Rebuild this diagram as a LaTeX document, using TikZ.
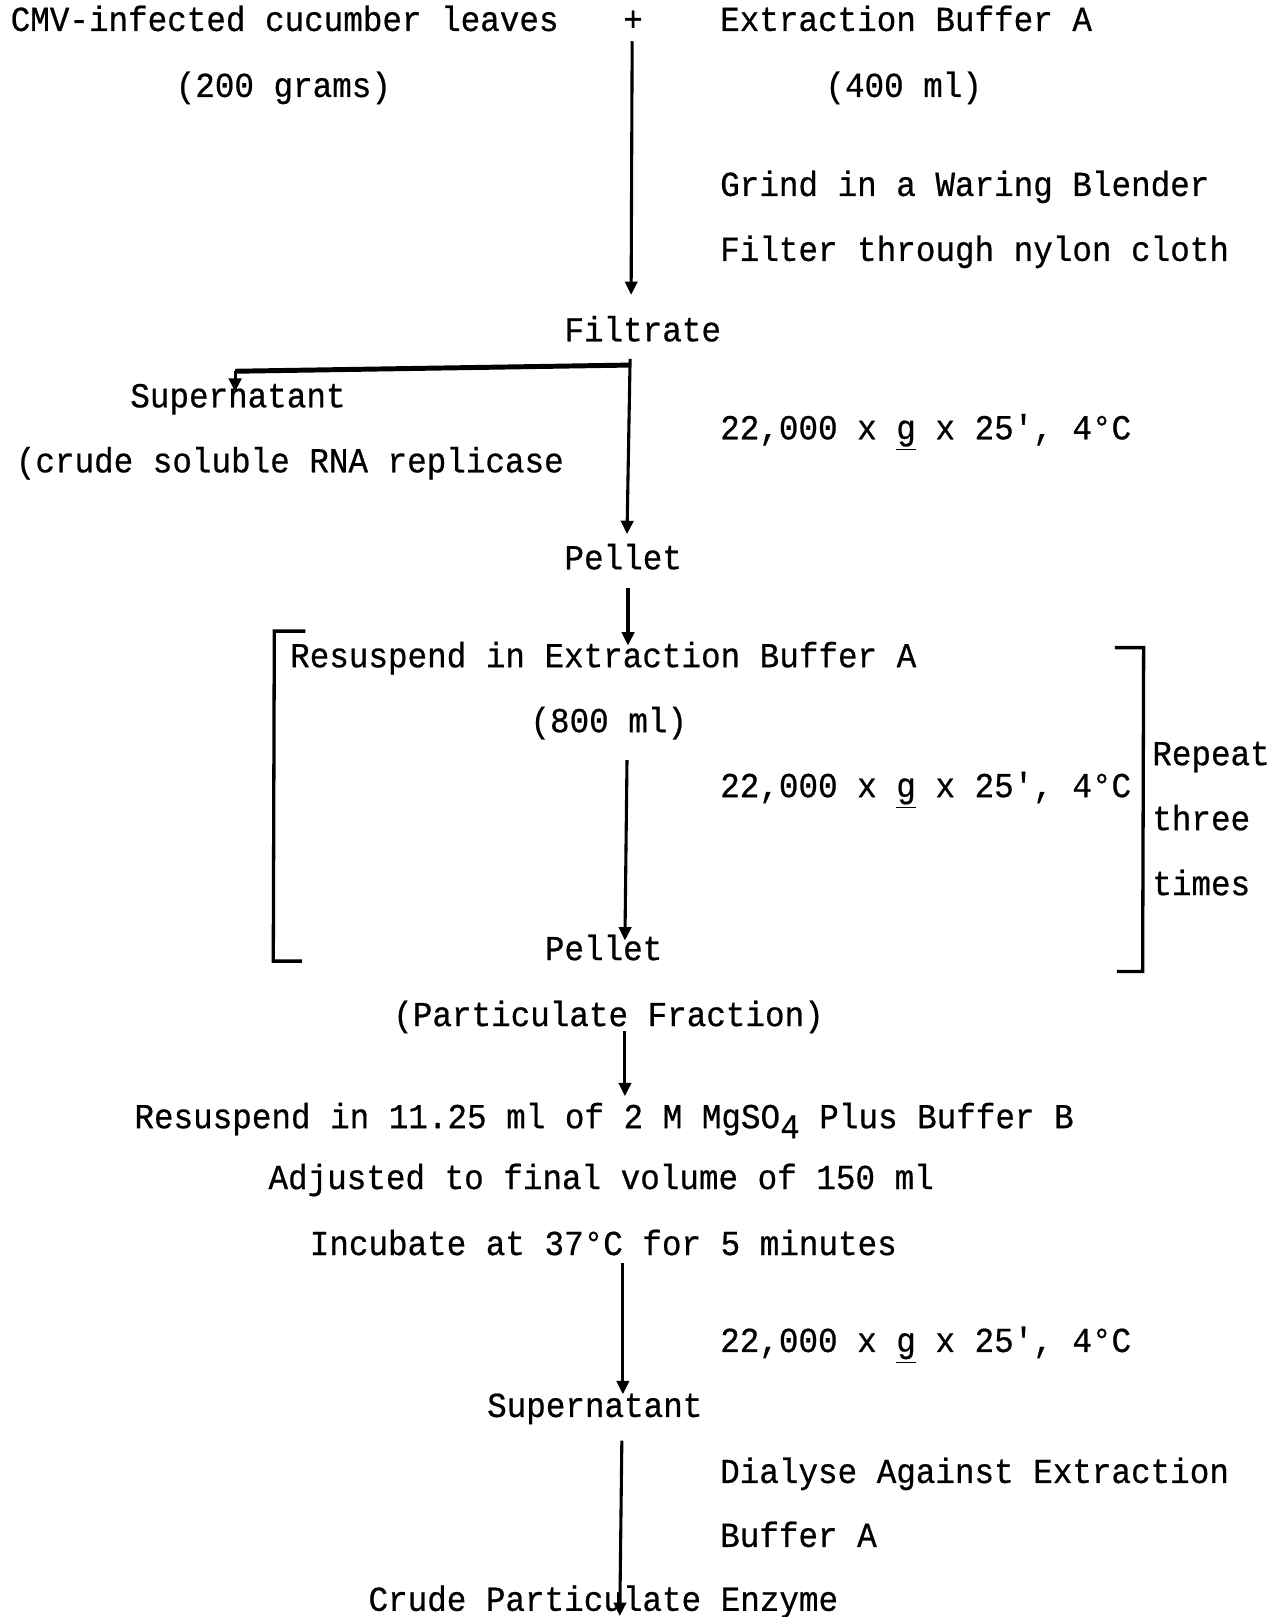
\documentclass[tikz,border=0pt]{standalone}
\usepackage{fontspec}
\setmainfont{Liberation Mono}[FakeStretch=0.93,FakeBold=0.6,Ligatures=TeXOff]
\usetikzlibrary{arrows.meta}
\begin{document}
\begin{tikzpicture}[x=0.5pt,y=-0.5pt,
  txt/.style={inner sep=0pt, anchor=base west, font=\fontsize{17}{20}\selectfont},
  flow/.style={line width=1.5pt, -{Triangle[length=6.5pt,width=6pt]}},
  brk/.style={line width=1.6pt},
  branch/.style={line width=2.4pt}]
\useasboundingbox[fill=white] (0,0) rectangle (1239,1568);
% texts
\node[txt] (cmv) at (10,30) {CMV-infected cucumber leaves};
\node[txt] (plus) at (604,30) {+};
\node[txt] (bufA) at (698,30) {Extraction Buffer A};
\node[txt] (g200) at (170,94) {(200 grams)};
\node[txt] (ml400) at (800,94) {(400 ml)};
\node[txt] (grind) at (698,190) {Grind in a Waring Blender};
\node[txt] (filter) at (698,253) {Filter through nylon cloth};
\node[txt] (filtrate) at (547,331) {Filtrate};
\node[txt] (sup1) at (126,395) {Supernatant};
\node[txt] (spin1) at (698,426) {22,000 x \underline{g} x 25', 4°C};
\node[txt] (crude) at (15,458) {(crude soluble RNA replicase};
\node[txt] (pel1) at (547,552) {Pellet};
\node[txt] (resA) at (281,647) {Resuspend in Extraction Buffer A};
\node[txt] (ml800) at (514,710) {(800 ml)};
\node[txt] (spin2) at (698,773) {22,000 x \underline{g} x 25', 4°C};
\node[txt] (rep1) at (1117,742) {Repeat};
\node[txt] (rep2) at (1117,805) {three};
\node[txt] (rep3) at (1117,868) {times};
\node[txt] (pel2) at (528,931) {Pellet};
\node[txt] (partf) at (381,995) {(Particulate Fraction)};
\node[txt] (resB) at (130,1094) {Resuspend in 11.25 ml of 2 M MgSO\raisebox{-0.55ex}{4} Plus Buffer B};
\node[txt] (adj) at (260,1153) {Adjusted to final volume of 150 ml};
\node[txt] (incub) at (300,1217) {Incubate at 37°C for 5 minutes};
\node[txt] (spin3) at (698,1311) {22,000 x \underline{g} x 25', 4°C};
\node[txt] (sup2) at (472,1374) {Supernatant};
\node[txt] (dial) at (698,1438) {Dialyse Against Extraction};
\node[txt] (dialB) at (698,1500) {Buffer A};
\node[txt] (enz) at (357,1562) {Crude Particulate Enzyme};
% connector coordinates
\coordinate (a1s) at (613,40);
\coordinate (a1e) at (612,286);
\coordinate (a2s) at (611,348);
\coordinate (a2e) at (608,518);
\coordinate (br0) at (611,354);
\coordinate (br1) at (228,360);
\coordinate (br2) at (228,380);
\coordinate (a3s) at (609,570);
\coordinate (a3e) at (609,626);
\coordinate (a4s) at (608,737);
\coordinate (a4e) at (606,912);
\coordinate (a5s) at (606,1000);
\coordinate (a5e) at (606,1063);
\coordinate (a6s) at (604,1225);
\coordinate (a6e) at (604,1352);
\coordinate (a7s) at (603,1397);
\coordinate (a7e) at (601,1567);
% arrows
\draw[flow] (a1s) -- (a1e);
\draw[flow] (a2s) -- (a2e);
\draw[branch] (br0) -- (br1);
\draw[flow] (br1) -- (br2);
\draw[flow] (a3s) -- (a3e);
\draw[flow] (a4s) -- (a4e);
\draw[flow] (a5s) -- (a5e);
\draw[flow] (a6s) -- (a6e);
\draw[flow] (a7s) -- (a7e);
% brackets
\draw[brk] (296,612) -- (266,612) -- (265,932) -- (293,932);
\draw[brk] (1081,628) -- (1109,628) -- (1108,942) -- (1083,942);
\end{tikzpicture}
\end{document}
